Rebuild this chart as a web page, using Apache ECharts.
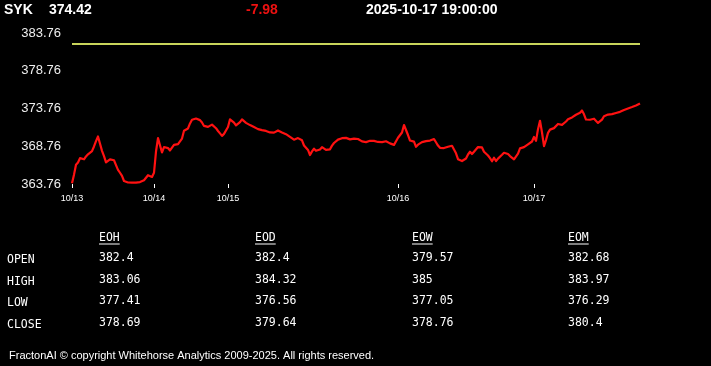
<!DOCTYPE html>
<html><head><meta charset="utf-8">
<script src="https://cdn.jsdelivr.net/npm/echarts@6/dist/echarts.min.js"></script>
<style>html,body{margin:0;padding:0;background:#000;}#c{width:711px;height:366px;}</style>
</head><body><div id="c"></div>
<script>
const symbol = 'SYK';
const lastPrice = '374.42';
const change = '-7.98';
const timestamp = '2025-10-17 19:00:00';
const prevClose = 382.4;
const yTicks = [363.76, 368.76, 373.76, 378.76, 383.76];
const dayLabels = ['10/13', '10/14', '10/15', '10/16', '10/17'];
const dayStartIndex = [0, 41, 78, 163, 231];
const prices = [
363.85,365.00,366.31,366.60,367.18,367.37,367.03,367.41,367.69,367.78,
368.11,368.73,369.44,370.05,369.91,368.15,367.44,366.63,366.68,367.03,
367.16,366.91,366.27,365.64,365.25,364.84,364.16,364.29,363.96,363.93,
363.93,363.93,363.95,363.98,364.02,364.12,364.25,364.33,364.92,365.10,
364.70,365.25,368.06,369.84,369.58,367.94,368.66,368.78,368.52,368.20,
368.41,368.94,369.02,369.05,368.98,369.78,370.82,370.98,371.12,371.78,
372.27,372.39,372.43,372.45,372.22,371.90,371.45,371.24,371.32,371.49,
371.63,371.43,371.15,370.78,370.46,370.13,370.40,370.36,371.31,372.33,
372.38,371.90,371.52,371.49,371.96,372.31,372.09,371.86,371.69,371.56,
371.43,371.30,371.16,371.03,370.90,370.90,370.87,370.79,370.70,370.59,
370.52,370.56,370.81,370.85,370.77,370.58,370.44,370.36,370.20,370.01,
369.75,369.63,369.76,369.84,369.88,369.55,368.86,368.74,368.27,367.59,
368.08,368.43,368.16,368.08,368.33,368.65,368.43,368.29,368.29,368.35,
368.84,369.19,369.44,369.64,369.74,369.83,369.99,369.87,369.75,369.67,
369.75,369.78,369.70,369.72,369.80,369.40,369.18,369.31,369.40,369.48,
369.56,369.47,369.38,369.33,369.30,369.31,369.35,369.42,369.33,369.14,
369.01,368.94,369.13,369.89,370.01,370.58,371.57,371.45,370.25,369.52,
369.43,369.37,368.69,368.97,369.14,369.31,369.40,369.44,369.44,369.51,
369.59,369.71,369.29,368.85,368.55,368.51,368.52,368.65,368.69,368.69,
368.82,368.59,367.82,367.05,366.87,366.80,366.80,367.14,367.67,368.03,
367.73,368.04,368.29,368.65,368.69,368.60,368.03,367.78,367.53,367.18,
366.77,367.24,366.80,367.12,367.37,367.63,367.90,367.92,367.73,367.46,
367.21,367.03,367.22,367.78,368.48,368.53,368.64,368.84,369.01,369.14,
369.39,370.00,369.48,371.02,372.13,370.58,368.77,369.58,370.53,370.96,
371.12,371.16,371.30,371.71,371.89,371.60,371.56,372.04,372.33,372.45,
372.58,372.74,372.93,373.08,373.19,373.49,372.99,372.30,372.24,372.27,
372.33,372.41,372.25,371.85,371.92,372.29,372.74,372.93,372.96,372.88,
373.01,373.12,373.17,373.24,373.32,373.45,373.56,373.71,373.77,373.77,
373.95,373.98,374.15,374.39,374.42
];
const tableCols = ['EOH', 'EOD', 'EOW', 'EOM'];
const tableRows = ['OPEN', 'HIGH', 'LOW', 'CLOSE'];
const eoh = [382.4, 383.06, 377.41, 378.69];
const eod = [382.4, 384.32, 376.56, 379.64];
const eow = [379.57, 385, 377.05, 378.76];
const eom = [382.68, 383.97, 376.29, 380.4];
const footerText = 'FractonAI \u00A9 copyright Whitehorse Analytics 2009-2025. All rights reserved.';

const categories = prices.map((_, i) => String(i));
const isDayStart = (idx) => dayStartIndex.indexOf(idx) >= 0;

const SANS = "'Liberation Sans', Arial, sans-serif";
const MONO = "'DejaVu Sans Mono', monospace";

const graphics = [];
function txt(x, y, text, fill, font) {
  graphics.push({type: 'text', x: x, y: y, silent: true,
    style: {text: text, fill: fill, font: font, verticalAlign: 'middle', align: 'left'}});
}
// header
txt(4, 10, symbol, '#ffffff', 'bold 14px ' + SANS);
txt(49, 10, lastPrice, '#ffffff', 'bold 14px ' + SANS);
txt(246, 10, change, '#ee1111', 'bold 14px ' + SANS);
txt(366, 10, timestamp, '#ffffff', 'bold 14px ' + SANS);
// table
const colX = [99, 255, 412, 568];
const colVals = [eoh, eod, eow, eom];
const rowY = [259.5, 281, 302.5, 324];
const TFONT = '11.5px ' + MONO;
tableCols.forEach((c, i) => {
  txt(colX[i], 238, c, '#ffffff', TFONT);
  graphics.push({type: 'rect', silent: true, shape: {x: colX[i], y: 243.5, width: c.length * 6.9, height: 1}, style: {fill: '#ffffff'}});
});
tableRows.forEach((r, j) => {
  txt(7, rowY[j] + 1, r, '#ffffff', TFONT);
  colVals.forEach((vals, i) => {
    txt(colX[i], rowY[j] - 1, String(vals[j]), '#ffffff', TFONT);
  });
});
// footer
txt(9, 355.5, footerText, '#ffffff', '11px ' + SANS);

const chart = echarts.init(document.getElementById('c'), null, {renderer: 'canvas'});
chart.setOption({
  backgroundColor: '#000000',
  animation: false,
  grid: {left: 72, right: 71, top: 33, bottom: 182, containLabel: false},
  xAxis: {
    type: 'category',
    data: categories,
    boundaryGap: false,
    axisLine: {show: false},
    axisTick: {show: true, interval: isDayStart, length: 4, lineStyle: {color: '#ffffff', width: 1}},
    axisLabel: {
      show: true, interval: isDayStart, margin: 10,
      color: '#ffffff', fontSize: 9, fontFamily: SANS,
      formatter: (v, idx) => dayLabels[dayStartIndex.indexOf(Number(v))] || ''
    },
    splitLine: {show: false}
  },
  yAxis: {
    type: 'value',
    min: yTicks[0],
    max: yTicks[yTicks.length - 1],
    interval: 5,
    axisLine: {show: false},
    axisTick: {show: false},
    splitLine: {show: false},
    axisLabel: {
      color: '#eeeeee', fontSize: 13, fontFamily: SANS, margin: 11,
      formatter: (v) => Number(v).toFixed(2)
    }
  },
  series: [{
    type: 'line',
    data: prices,
    showSymbol: false,
    symbol: 'none',
    lineStyle: {color: '#ff1111', width: 2.2, join: 'round'},
    markLine: {
      silent: true,
      symbol: ['none', 'none'],
      label: {show: false},
      lineStyle: {color: '#c8d45a', width: 2, type: 'solid'},
      data: [{yAxis: prevClose}]
    }
  }],
  graphic: graphics
});
</script>
</body></html>
